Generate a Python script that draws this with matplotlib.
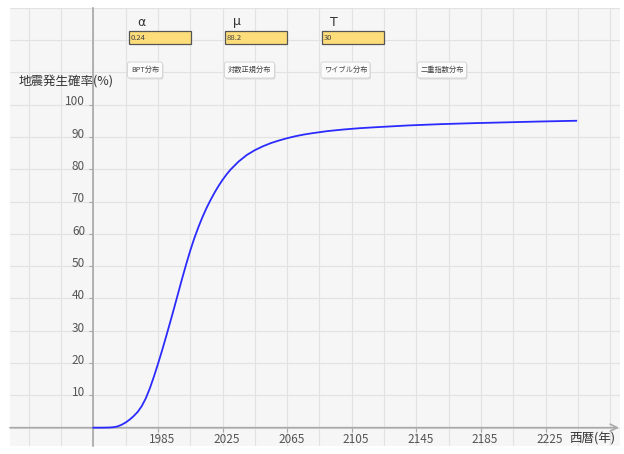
import matplotlib
matplotlib.use("Agg")
import matplotlib.pyplot as plt
import matplotlib.transforms as mtransforms
from matplotlib.patches import Rectangle, FancyBboxPatch

# data
years = [1945, 1950, 1955, 1957.5, 1960, 1962.5, 1965, 1967.5, 1970, 1972.5,
         1975, 1977.5, 1980, 1982.5, 1985, 1987.5, 1990, 1992.5, 1995, 1997.5,
         2000, 2002.5, 2005, 2007.5, 2010, 2012.5, 2015, 2017.5, 2020, 2022.5,
         2025, 2027.5, 2030, 2035, 2040, 2045, 2050, 2055, 2060, 2065,
         2070, 2075, 2080, 2090, 2100, 2110, 2120, 2140, 2160, 2180,
         2200, 2220, 2244]
prob = [0.0, 0.0, 0.05, 0.15, 0.4, 0.9, 1.6, 2.5, 3.6, 4.9,
        6.7, 9.1, 12.2, 15.8, 19.7, 23.8, 28.1, 32.5, 37.0, 41.6,
        46.2, 50.6, 54.8, 58.6, 62.0, 65.1, 67.9, 70.4, 72.7, 74.8,
        76.7, 78.4, 79.9, 82.4, 84.4, 85.9, 87.1, 88.1, 88.9, 89.6,
        90.2, 90.7, 91.1, 91.8, 92.3, 92.7, 93.0, 93.55, 93.95, 94.25,
        94.5, 94.75, 95.0]

x_ticks = [1985, 2025, 2065, 2105, 2145, 2185, 2225]
y_ticks = [10, 20, 30, 40, 50, 60, 70, 80, 90, 100]
x_grid = list(range(1865, 2300, 20))
y_grid = list(range(-10, 140, 10))

params = ["α", "μ", "T"]
param_values = ["0.24", "88.2", "30"]
buttons = ["BPT分布", "対数正規分布", "ワイブル分布", "二重指数分布"]

ylabel = "地震発生確率(%)"
xlabel = "西暦(年)"

JP = ["Noto Sans CJK JP", "DejaVu Sans"]
plt.rcParams["font.family"] = JP

W, H = 624, 454
fig = plt.figure(figsize=(W / 100, H / 100), dpi=100)
fig.patch.set_facecolor("white")


def fx(px):
    return px / W


def fy(py):
    return 1 - py / H


ax = fig.add_axes([fx(10), fy(446), (620 - 10) / W, (446 - 8) / H])
ax.set_facecolor("#f6f6f6")
ax.set_xlim(1893.4, 2271.1)
ax.set_ylim(-5.67, 129.9)

# grid
for g in x_grid:
    ax.axvline(g, color="#e2e2e2", lw=0.8, zorder=0)
for g in y_grid:
    ax.axhline(g, color="#e2e2e2", lw=0.8, zorder=0)

# axes lines
for s in ["top", "right", "bottom"]:
    ax.spines[s].set_visible(False)
ax.spines["left"].set_position(("data", 1945))
ax.spines["left"].set_color("#a8a8a8")
ax.spines["left"].set_linewidth(1.2)
ax.annotate("", xy=(2270.5, 0), xytext=(1893.4, 0),
            arrowprops=dict(arrowstyle="->,head_length=0.5,head_width=0.25",
                            color="#a8a8a8", lw=1.2, shrinkA=0, shrinkB=0))

ax.set_yticks(y_ticks)
ax.set_yticklabels([str(v) for v in y_ticks])
ax.set_xticks(x_ticks)
ax.set_xticklabels([str(v) for v in x_ticks])
ax.xaxis.set_ticks_position("bottom")
ax.spines["bottom"].set_position(("data", 0))
ax.tick_params(axis="y", length=3, width=0.8, color="#a8a8a8", pad=3,
               labelsize=8.5, labelcolor="#555555")
ax.tick_params(axis="x", length=3, width=0.8, color="#a8a8a8", pad=1,
               labelsize=8.5, labelcolor="#555555")
for lab in ax.get_yticklabels():
    lab.set_transform(lab.get_transform() +
                      mtransforms.ScaledTranslation(0, 3 / 72, fig.dpi_scale_trans))
for lab in ax.get_xticklabels():
    lab.set_transform(lab.get_transform() +
                      mtransforms.ScaledTranslation(3 / 72, 0, fig.dpi_scale_trans))

ax.plot(years, prob, color="#2b2bff", lw=1.3, zorder=3,
        solid_joinstyle="round")

# axis titles
fig.text(fx(19), fy(81), ylabel, fontsize=9, color="#333333",
         ha="left", va="center")
fig.text(fx(569), fy(439), xlabel, fontsize=9, color="#333333",
         ha="left", va="center")

# parameter inputs
box_left = [129, 225, 322]
for name, val, bx in zip(params, param_values, box_left):
    fig.text(fx(bx + 12), fy(22), name, fontsize=9, color="#333333",
             ha="center", va="center", family=["DejaVu Sans"])
    fig.patches.append(Rectangle((fx(bx), fy(44.3)), 62 / W, 13.6 / H,
                                 transform=fig.transFigure,
                                 facecolor="#fddc7a", edgecolor="#555555",
                                 lw=0.9, zorder=5))
    fig.text(fx(bx + 2), fy(37.5), val, fontsize=5.5, color="#444444",
             ha="left", va="center", zorder=6)

# buttons
btn_left = [127.5, 224.5, 321, 417.5]
btn_w = [35, 50, 49, 49]
for name, bx, bw in zip(buttons, btn_left, btn_w):
    fig.patches.append(FancyBboxPatch((fx(bx + 1), fy(79.5)), bw / W, 16 / H,
                                      boxstyle="round,pad=0,rounding_size=0.004",
                                      transform=fig.transFigure,
                                      facecolor="#dcdcdc", edgecolor="none",
                                      zorder=4))
    fig.patches.append(FancyBboxPatch((fx(bx), fy(78)), bw / W, 16 / H,
                                      boxstyle="round,pad=0,rounding_size=0.004",
                                      transform=fig.transFigure,
                                      facecolor="#fbfbfb", edgecolor="#d6d6d6",
                                      lw=0.7, zorder=5))
    fig.text(fx(bx + bw / 2), fy(70), name, fontsize=5.2, color="#444444",
             ha="center", va="center", zorder=6)

fig.savefig("out.png", dpi=100)
